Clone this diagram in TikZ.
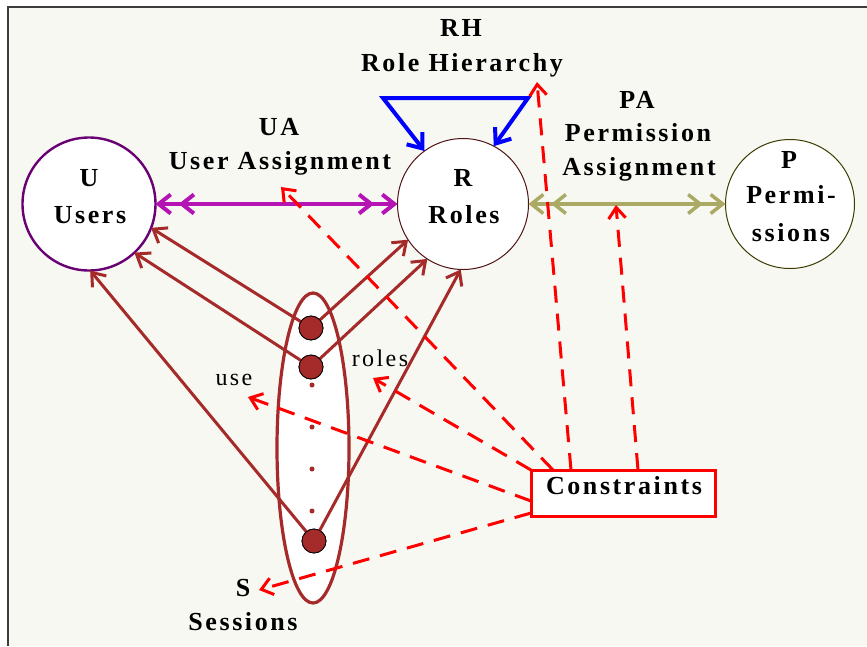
\documentclass[tikz,border=0pt]{standalone}
\usepackage{fontspec}
\usetikzlibrary{arrows.meta,shapes.geometric}
\newfontfamily\lblfont{Liberation Serif}[LetterSpace=10]
\newfontfamily\thinfont{Liberation Serif}[LetterSpace=10]
\definecolor{bgcream}{RGB}{248,248,243}
\definecolor{framegray}{RGB}{60,60,60}
\definecolor{sesbrown}{RGB}{165,42,42}
\definecolor{upurple}{RGB}{105,0,115}
\definecolor{uamag}{RGB}{180,20,180}
\definecolor{rborder}{RGB}{80,20,20}
\definecolor{pborder}{RGB}{60,60,0}
\definecolor{paolive}{RGB}{170,170,100}
\definecolor{rhblue}{RGB}{0,0,255}
\definecolor{cred}{RGB}{255,0,0}
\begin{document}
\begin{tikzpicture}[x=1pt,y=-1pt,
  every node/.style={inner sep=0pt,outer sep=0pt},
  setcircle/.style={circle,fill=white,minimum size=#1},
  boldlbl/.style={font=\lblfont\bfseries\fontsize{26}{30}\selectfont,anchor=base,text=black},
  thinlbl/.style={font=\thinfont\fontsize{24}{30}\selectfont,anchor=base,text=black},
  bigdot/.style={circle,fill=sesbrown,draw=black,line width=0.8pt,minimum size=24},
  smalldot/.style={circle,fill=sesbrown,minimum size=5},
  sesline/.style={draw=sesbrown,line width=3pt,-{Straight Barb[length=12pt,width=18pt]}},
  dbl/.tip={Straight Barb[length=12pt,width=19pt,sep=6pt] Straight Barb[length=12pt,width=19pt]},
  ualine/.style={draw=uamag,line width=4pt,dbl-dbl},
  paline/.style={draw=paolive,line width=3.5pt,dbl-dbl},
  rhline/.style={draw=rhblue,line width=4pt,{Straight Barb[length=13pt,width=20pt]}-{Straight Barb[length=13pt,width=20pt]}},
  cline/.style={draw=cred,line width=3pt,dash pattern=on 17pt off 11pt,-{Straight Barb[length=11pt,width=17pt]}}]

% page and frame
\useasboundingbox (0,0) rectangle (867,646);
\fill[white] (0,0) rectangle (867,646);
\fill[bgcream] (8,7) rectangle (867,646);
\draw[framegray,line width=1.8pt] (867,7) -- (8,7) -- (8,646);

% the three sets
\node[setcircle=133,draw=upurple,line width=2.4pt] (U) at (89,204) {};
\node[setcircle=131,draw=rborder,line width=1pt] (R) at (463,204) {};
\node[setcircle=129,draw=pborder,line width=1pt] (P) at (790,204) {};

% sessions
\node[ellipse,fill=white,draw=sesbrown,line width=3.2pt,minimum width=72,minimum height=310] (S) at (313,448) {};
\node[smalldot] (s1) at (312,385) {};
\node[smalldot] (s2) at (312,427) {};
\node[smalldot] (s3) at (312,469) {};
\node[smalldot] (s4) at (312,511) {};

% session links to users and roles
\node[bigdot] (d1) at (311,328) {};
\node[bigdot] (d2) at (311,367) {};
\node[bigdot] (d3) at (314,541) {};
\draw[sesline] (d1) -- (U.-21);
\draw[sesline] (d2) -- (U.-47);
\draw[sesline] (d3) -- (U.-89);
\draw[sesline] (d1) -- (R.-147);
\draw[sesline] (d2) -- (R.-123);
\draw[sesline] (d3) -- (R.-92);
\node[bigdot] at (d1) {};
\node[bigdot] at (d2) {};
\node[bigdot] at (d3) {};

% assignments
\draw[ualine] (U) -- (R);
\draw[paline] (R) -- (P);

% role hierarchy loop
\coordinate (rhL) at (383,98);
\coordinate (rhR) at (528,98);
\draw[rhline,line join=miter] (R.126) -- (rhL) -- (rhR) -- (R.62);

% constraints
\node[draw=cred,line width=3pt,fill=white,minimum width=184,minimum height=46] (C) at (623,493) {};
\node[boldlbl] (ctext) at (624,494) {Constraints};

\coordinate (rhtip) at (537,82);
\coordinate (patip) at (616,205);
\coordinate (uatip) at (281,187);
\coordinate (rolestip) at (373,378);
\coordinate (usetip) at (248,397);
\coordinate (stip) at (259,590);
\draw[cline] ([xshift=40pt]C.north west) -- (rhtip);
\draw[cline] ([xshift=107pt]C.north west) -- (patip);
\draw[cline] ([xshift=22pt]C.north west) -- (uatip);
\draw[cline] (C.north west) -- (rolestip);
\draw[cline] ([yshift=-31pt]C.north west) -- (usetip);
\draw[cline] ([yshift=3pt]C.south west) -- (stip);

% labels
\node[boldlbl] (lrh1) at (461,36) {RH};
\node[boldlbl] (lrh2) at (462,71) {Role Hierarchy};
\node[boldlbl] (lua1) at (279,135) {UA};
\node[boldlbl] (lua2) at (280,169) {User Assignment};
\node[boldlbl] (lpa1) at (637,108) {PA};
\node[boldlbl] (lpa2) at (638,141) {Permission};
\node[boldlbl] (lpa3) at (639,175) {Assignment};
\node[boldlbl] (lu1) at (89,186) {U};
\node[boldlbl] (lu2) at (90,223) {Users};
\node[boldlbl] (lr1) at (463,186) {R};
\node[boldlbl] (lr2) at (464,223) {Roles};
\node[boldlbl] (lp1) at (789,168) {P};
\node[boldlbl] (lp2) at (791,203) {Permi-};
\node[boldlbl] (lp3) at (791,241) {ssions};
\node[boldlbl] (ls1) at (243,596) {S};
\node[boldlbl] (ls2) at (243,630) {Sessions};
\node[thinlbl] (luse) at (234,385) {use};
\node[thinlbl] (lroles) at (380,366) {roles};
\end{tikzpicture}
\end{document}
